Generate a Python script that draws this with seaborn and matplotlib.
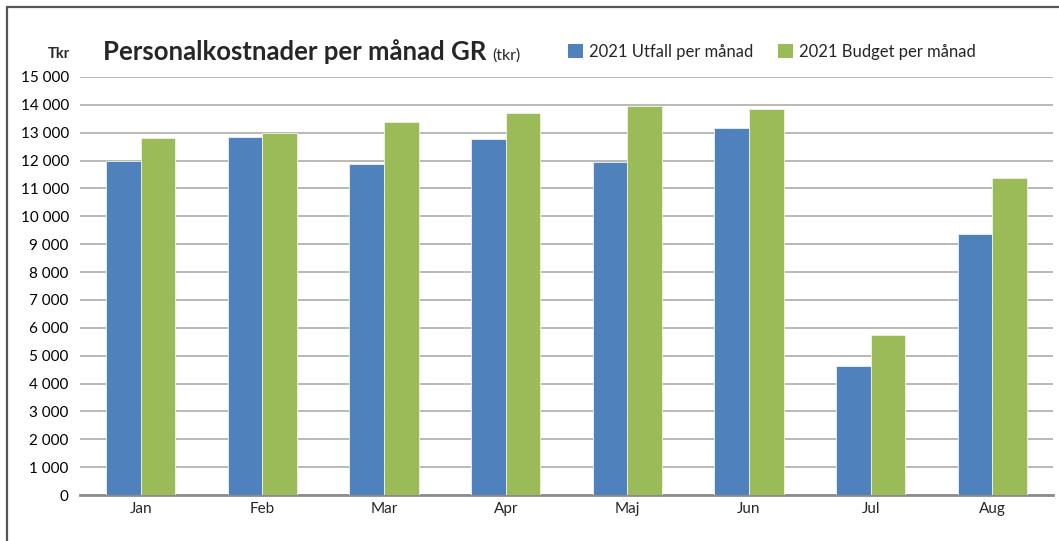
import numpy as np
import pandas as pd
import matplotlib
matplotlib.use("Agg")
import matplotlib.pyplot as plt
from matplotlib.patches import Patch, Rectangle
from matplotlib.ticker import FuncFormatter
import seaborn as sns

# Data (tkr)
months = ["Jan", "Feb", "Mar", "Apr", "Maj", "Jun", "Jul", "Aug"]
utfall = [12000, 12860, 11890, 12780, 11950, 13170, 4630, 9370]
budget = [12810, 13000, 13380, 13700, 13960, 13850, 5730, 11380]
series = ["2021 Utfall per månad", "2021 Budget per månad"]
colors = ["#4F81BD", "#9BBB59"]

df = pd.DataFrame({
    "Månad": months * 2,
    "Serie": [series[0]] * len(months) + [series[1]] * len(months),
    "Tkr": utfall + budget,
})

sns.set_style("white")
plt.rcParams["font.family"] = ["Lato", "DejaVu Sans"]

fig = plt.figure(figsize=(10.59, 5.41), dpi=100)
ax = fig.add_axes([0.0755, 0.085, 0.919, 0.7727])

sns.barplot(data=df, x="Månad", y="Tkr", hue="Serie", palette=colors,
            width=0.57, saturation=1, edgecolor="#eef3e6", linewidth=0.6,
            legend=False, ax=ax, zorder=3)

ax.set_ylim(0, 15000)
ax.set_xlim(-0.5, len(months) - 0.5)
ax.set_yticks(np.arange(0, 15001, 1000))
ax.yaxis.set_major_formatter(FuncFormatter(lambda v, p: f"{int(v):,}".replace(",", " ")))
ax.grid(axis="y", color="#b9b9b9", linewidth=1.4, zorder=0)
ax.set_axisbelow(True)
for s in ["top", "right", "left"]:
    ax.spines[s].set_visible(False)
ax.spines["bottom"].set_color("#8c8c8c")
ax.spines["bottom"].set_linewidth(2)
ax.tick_params(axis="y", labelsize=11, length=0, pad=8, colors="black")
ax.tick_params(axis="x", labelsize=11, length=0, pad=5)
ax.set_xlabel("")
ax.set_ylabel("")

# Frame of the chart area (cut off at right and bottom)
fig.patches.append(Rectangle((7 / 1059, -0.1), 1.2, (541 - 7) / 541 + 0.1,
                             transform=fig.transFigure, fill=False,
                             edgecolor="#555555", linewidth=1.6))

fig.text(48 / 1059, (541 - 58) / 541, "Tkr", fontsize=10.5, fontweight="bold",
         va="baseline", ha="left")
title = fig.text(103 / 1059, (541 - 60) / 541, "Personalkostnader per månad GR",
                 fontsize=18.5, fontweight="bold", va="baseline", ha="left")
fig.canvas.draw()
bb = title.get_window_extent()
fig.text((bb.x1 + 6) / 1059, (541 - 60) / 541, "(tkr)", fontsize=11.5,
         va="baseline", ha="left")

handles = [Patch(facecolor=c, edgecolor="none") for c in colors]
fig.legend(handles, series, loc="center left", bbox_to_anchor=(553 / 1059, (541 - 52) / 541),
           ncol=2, frameon=False, fontsize=12, handlelength=0.9, handleheight=0.9,
           handletextpad=0.35, columnspacing=1.5)

fig.savefig("out.png", dpi=100)
